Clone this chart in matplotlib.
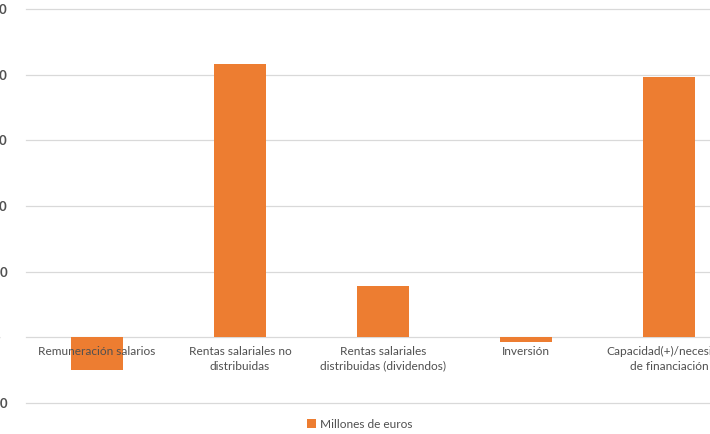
import matplotlib
matplotlib.use("Agg")
import matplotlib.pyplot as plt
from matplotlib.transforms import offset_copy

categories = ["Remuneración salarios", "Rentas salariales no\ndistribuidas",
              "Rentas salariales\ndistribuidas (dividendos)", "Inversión",
              "Capacidad(+)/necesidad\nde financiación"]
values = [-5000, 41550, 7760, -760, 39570]
yticks = [-10000, 0, 10000, 20000, 30000, 40000, 50000]
yticklabels = ["-10.000", "-  ", "10.000", "20.000", "30.000", "40.000", "50.000"]
series_name = "Millones de euros"

BAR = "#ED7D31"
GRID = "#D9D9D9"
TXT = "#505050"
plt.rcParams['font.family'] = ['Lato', 'DejaVu Sans']

W, H = 710, 434
fig = plt.figure(figsize=(W / 100, H / 100), dpi=100)
ax = fig.add_axes([25.5 / W, 31 / H, 715 / W, 394 / H])

x = list(range(len(categories)))
bars = ax.bar(x, values, width=0.357, color=BAR, zorder=2, label=series_name)
ax.set_xlim(-0.5, 4.5)
ax.set_ylim(-10000, 50000)
ax.set_yticks(yticks)
ax.set_yticklabels(yticklabels, color=TXT, fontsize=9.5, fontweight='bold')
ax.tick_params(axis='y', length=0, pad=13)
ax.set_xticks([])
ax.grid(axis='y', color=GRID, linewidth=0.9, zorder=0)
for gl in ax.get_ygridlines():
    gl.set_clip_on(False)
for s in ax.spines.values():
    s.set_visible(False)

tr = offset_copy(ax.transData, fig=fig, x=0, y=-6, units='points')
for xi, c in zip(x, categories):
    ax.text(xi, 0, c, transform=tr, ha='center', va='top', color=TXT,
            fontsize=8.6, linespacing=1.45, zorder=5, clip_on=False)

fig.legend(handles=[bars], labels=[series_name], loc='center',
           bbox_to_anchor=(360 / W, 1 - 424 / H), frameon=False,
           prop={'size': 8.6}, labelcolor=TXT, handlelength=0.7,
           handleheight=0.7, handletextpad=0.4)

fig.savefig("out.png", dpi=100)
